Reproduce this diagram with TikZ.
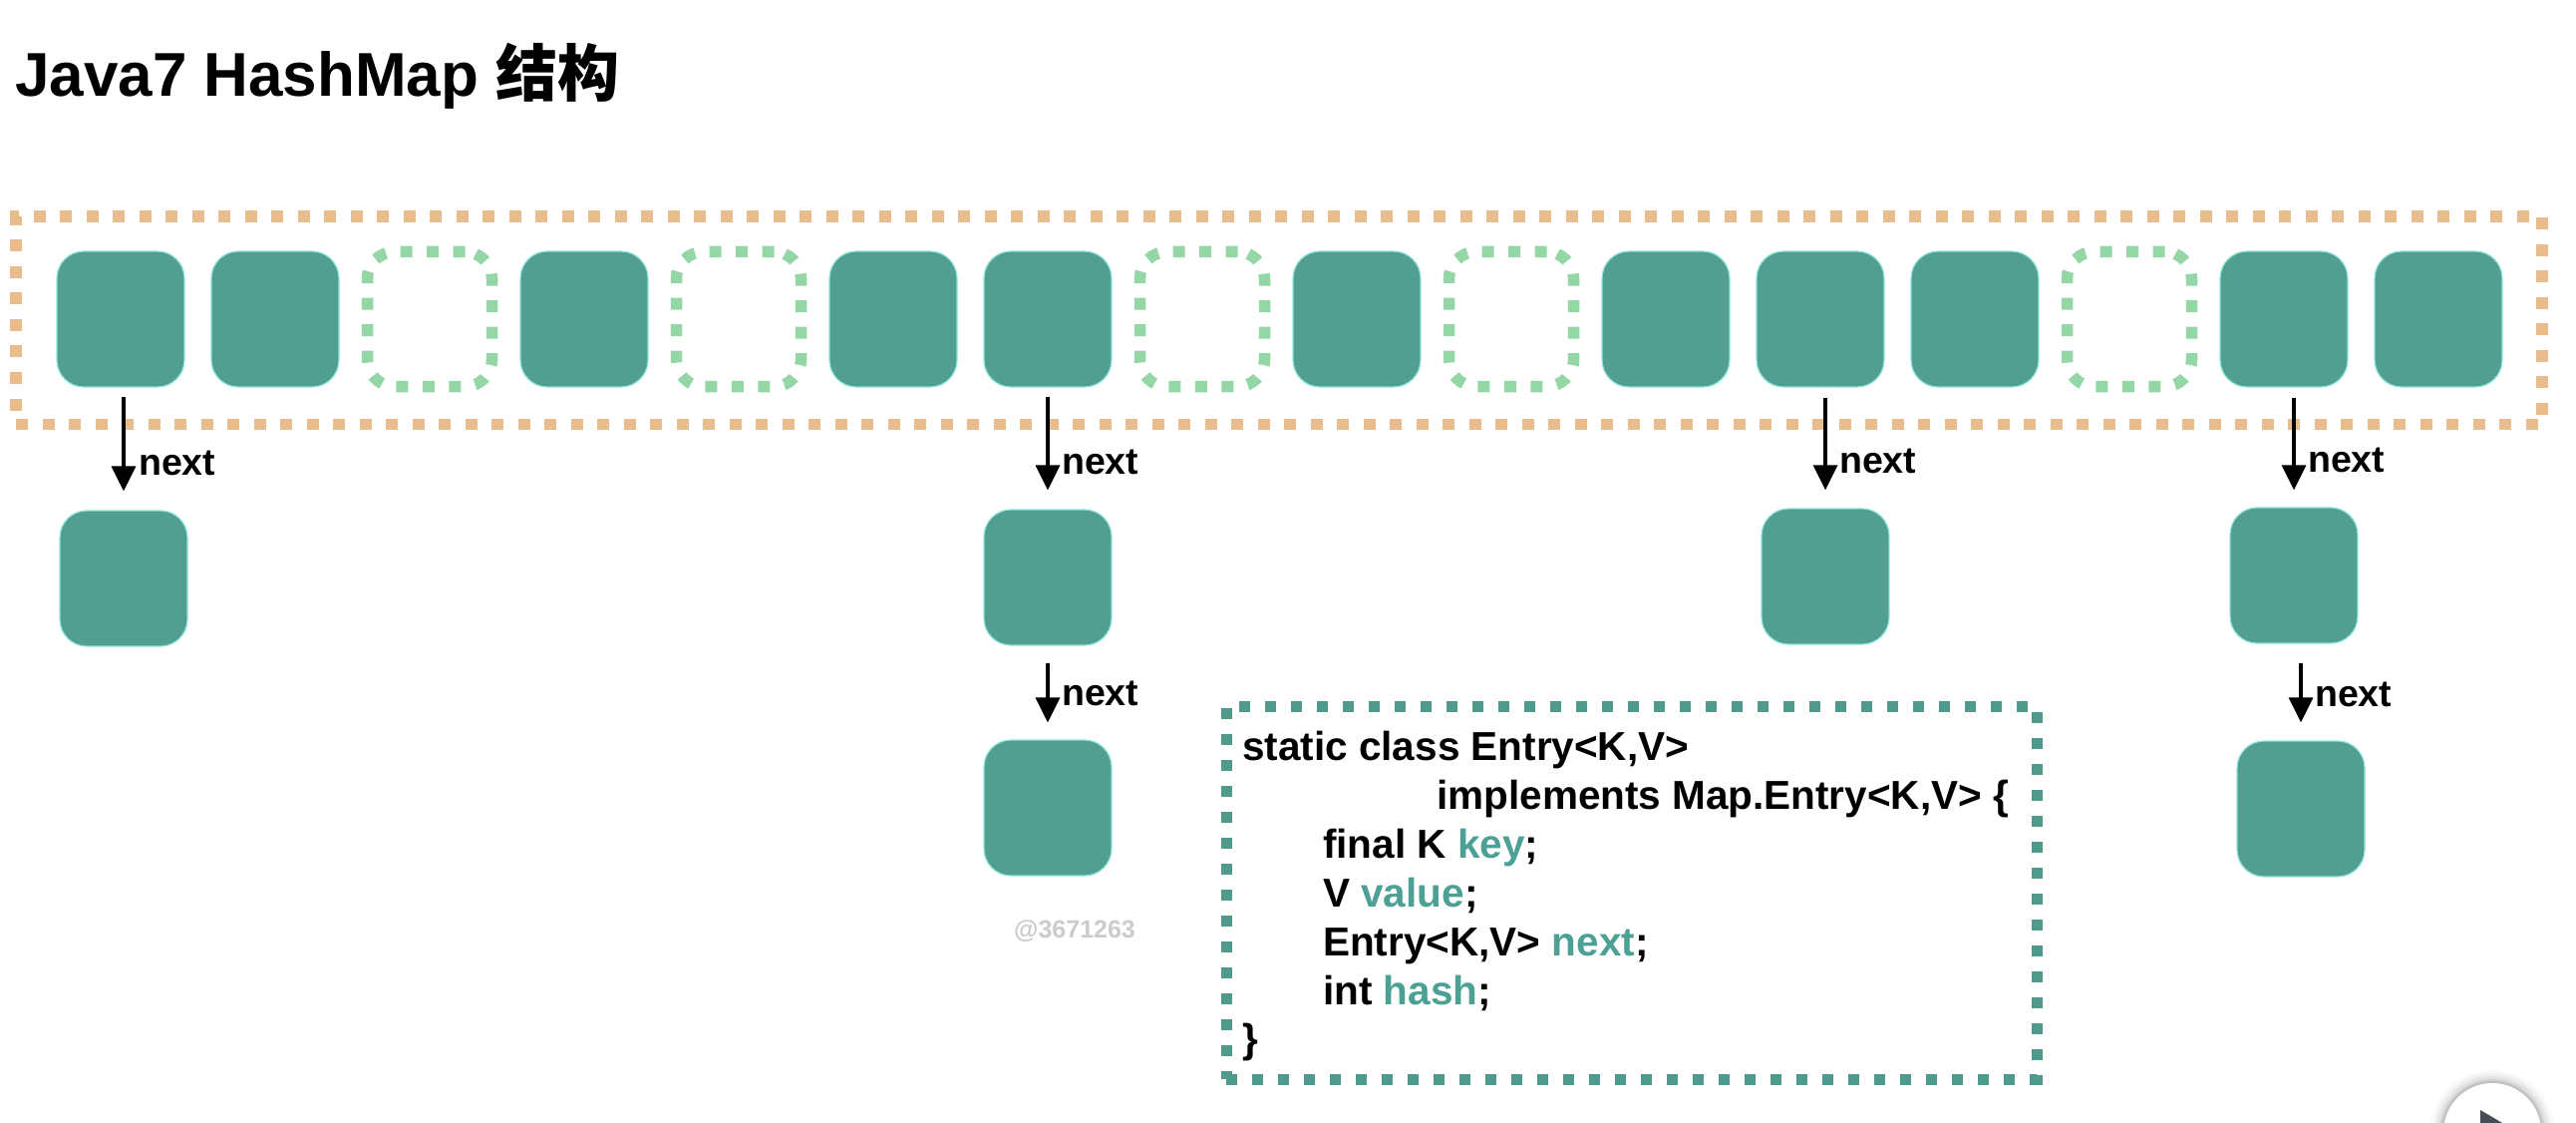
\documentclass[tikz,border=0pt]{standalone}
\usepackage{fontspec}
\setmainfont{Liberation Sans}
\newfontfamily\cjk{Noto Sans CJK SC}
\usetikzlibrary{arrows.meta,calc}
\definecolor{tealfill}{HTML}{529E91}
\definecolor{tealedge}{HTML}{8FE6DA}
\definecolor{greendash}{HTML}{94D6A6}
\definecolor{orangedash}{HTML}{E8BC8C}
\definecolor{tealtext}{HTML}{4CA094}
\definecolor{codedash}{HTML}{4F9A8C}
\definecolor{wmgray}{HTML}{CBCBCB}
\definecolor{playgray}{HTML}{474D55}
\begin{document}
\begin{tikzpicture}[x=1pt,y=1pt,
  full/.style={draw=tealedge, line width=1.2pt, fill=tealfill, rounded corners=27pt,
    minimum width=128pt, minimum height=136pt, inner sep=0pt},
  emptyslot/.style={draw=greendash, line width=11.5pt, dash pattern=on 12pt off 14.5pt,
    rounded corners=27pt, minimum width=125pt, minimum height=135pt, inner sep=0pt},
  nextarrow/.style={draw=black, line width=3.2pt, -{Triangle[width=24pt,length=25pt]}},
  nextlbl/.style={font=\bfseries\fontsize{37.5}{40}\selectfont, anchor=base west, inner sep=0pt},
  codeline/.style={font=\bfseries\fontsize{40.5}{45}\selectfont, anchor=base west, inner sep=0pt}]
\useasboundingbox (0,0) rectangle (2584,-1126);
\fill[white] (0,0) rectangle (2584,-1126);

% title
\node[anchor=base west, inner sep=0pt, font=\bfseries\fontsize{62}{70}\selectfont] (title)
  at (15,-97) {Java7 HashMap {\cjk 结构}};

% table frame
\node[draw=orangedash, line width=11.5pt, dash pattern=on 12pt off 14.5pt,
  minimum width=2534pt, minimum height=208.5pt, inner sep=0pt] (table) at (1283,-321.25) {};

% buckets
\node[full]      (b1)  at (121,-320) {};
\node[full]      (b2)  at (276,-320) {};
\node[emptyslot] (b3)  at (431,-320) {};
\node[full]      (b4)  at (586,-320) {};
\node[emptyslot] (b5)  at (741,-320) {};
\node[full]      (b6)  at (896,-320) {};
\node[full]      (b7)  at (1051,-320) {};
\node[emptyslot] (b8)  at (1206,-320) {};
\node[full]      (b9)  at (1361,-320) {};
\node[emptyslot] (b10) at (1516,-320) {};
\node[full]      (b11) at (1671,-320) {};
\node[full]      (b12) at (1826,-320) {};
\node[full]      (b13) at (1981,-320) {};
\node[emptyslot] (b14) at (2136,-320) {};
\node[full]      (b15) at (2291,-320) {};
\node[full]      (b16) at (2446,-320) {};

% chained entries
\node[full] (c1a)  at (124,-580) {};
\node[full] (c7a)  at (1051,-579) {};
\node[full] (c7b)  at (1051,-810) {};
\node[full] (c12a) at (1831,-578) {};
\node[full] (c15a) at (2301,-577) {};
\node[full] (c15b) at (2308,-811) {};

% next arrows
\draw[nextarrow, shorten <=9pt, shorten >=19pt] (c1a.north |- b1.south) -- (c1a.north);
\draw[nextarrow, shorten <=9pt, shorten >=19pt] (c7a.north |- b7.south) -- (c7a.north);
\draw[nextarrow, shorten <=10pt, shorten >=18pt] (c12a.north |- b12.south) -- (c12a.north);
\draw[nextarrow, shorten <=10pt, shorten >=17pt] (c15a.north |- b15.south) -- (c15a.north);
\draw[nextarrow, shorten <=17pt, shorten >=17pt] (c7b.north |- c7a.south) -- (c7b.north);
\draw[nextarrow, shorten <=19pt, shorten >=18pt] (c15b.north |- c15a.south) -- (c15b.north);

\node[nextlbl] (n1)  at ($(c1a.north)+(15,35)$) {next};
\node[nextlbl] (n7)  at ($(c7a.north)+(14,35)$) {next};
\node[nextlbl] (n12) at ($(c12a.north)+(14,35)$) {next};
\node[nextlbl] (n15) at ($(c15a.north)+(14,35)$) {next};
\node[nextlbl] (n7b) at ($(c7b.north)+(14,34)$) {next};
\node[nextlbl] (n15b) at ($(c15b.north)+(14,34)$) {next};

% entry class box
\node[draw=codedash, line width=11pt, dash pattern=on 11pt off 15pt,
  minimum width=813pt, minimum height=374pt, inner sep=0pt] (codebox) at (1636.5,-895) {};
\node[codeline] (l1) at (1246,-762)  {static class Entry<K,V>};
\node[codeline] (l2) at (1441,-811)  {implements Map.Entry<K,V> \{};
\node[codeline] (l3) at (1327,-860)  {final K \textcolor{tealtext}{key};};
\node[codeline] (l4) at (1327,-909)  {V \textcolor{tealtext}{value};};
\node[codeline] (l5) at (1327,-958)  {Entry<K,V> \textcolor{tealtext}{next};};
\node[codeline] (l6) at (1327,-1007) {int \textcolor{tealtext}{hash};};
\node[codeline] (l7) at (1246,-1055) {\}};

% watermark
\node[anchor=base west, inner sep=0pt, font=\bfseries\fontsize{25}{28}\selectfont, text=wmgray]
  (wm) at (1017,-940) {@3671263};

% play button
\begin{scope}
\clip (0,0) rectangle (2584,-1126);
\foreach \r/\o in {62/0.025,59/0.035,56/0.05,53/0.07,51/0.09} {
  \fill[black, opacity=\o] (2500,-1135) circle (\r);
}
\fill[white] (2500,-1135) circle (49);
\fill[playgray] (2488,-1113) -- (2534,-1140) -- (2488,-1167) -- cycle;
\end{scope}
\end{tikzpicture}
\end{document}
